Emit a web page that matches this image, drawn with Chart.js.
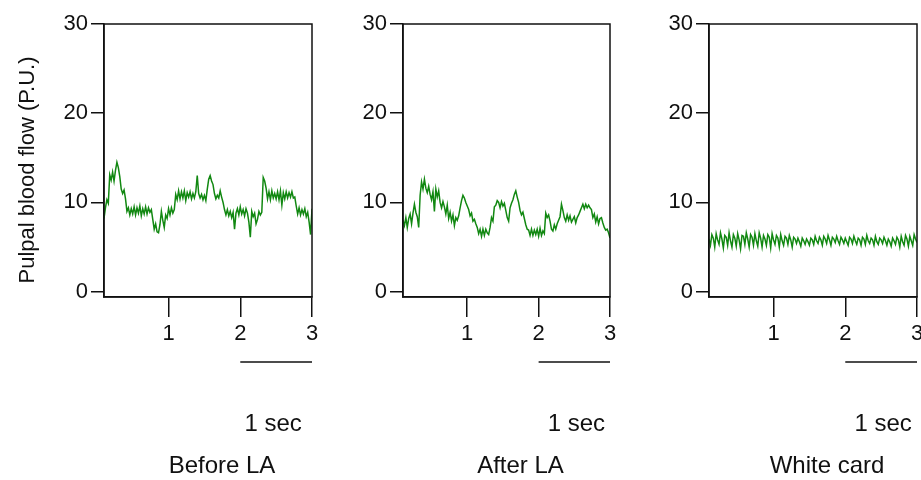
<!DOCTYPE html>
<html>
<head>
<meta charset="utf-8">
<script src="https://cdn.jsdelivr.net/npm/chart.js@4.4.1/dist/chart.umd.min.js"></script>
<style>
  body { margin: 0; background: #fff; }
  #wrap { position: relative; width: 921px; height: 480px; overflow: hidden; }
  #wrap canvas { position: absolute; top: 0; }
</style>
</head>
<body>
<div id="wrap">
  <canvas id="beforeChart"></canvas>
  <canvas id="afterChart"></canvas>
  <canvas id="cardChart"></canvas>
</div>
<script>
// Sampling of the traces (seconds)
var timeStart = 0.1;
var timeStep = 0.02;

var xTicks = [1, 2, 3];
var yTicks = [0, 10, 20, 30];
var panelNames = ['Before LA', 'After LA', 'White card'];
var scaleBarLabel = '1 sec';
var yTitle = 'Pulpal blood flow (P.U.)';

// Pulpal blood flow (P.U.)
var beforeLA = [
    8.2, 9.4, 10.3, 9.9, 13.1, 12.5, 13.4, 12.4, 13.6, 14.5,
    13.9, 12.9, 11.5, 11.0, 11.4, 10.4, 9.0, 9.4, 8.6, 9.3,
    8.7, 9.5, 8.6, 9.4, 8.8, 9.6, 8.5, 9.3, 8.7, 9.5,
    8.7, 9.4, 8.9, 9.2, 8.1, 7.0, 7.6, 6.7, 6.6, 7.5,
    9.0, 8.0, 7.2, 8.6, 8.2, 9.3, 8.6, 9.4, 8.8, 9.2,
    10.9, 10.3, 11.3, 10.4, 11.2, 10.5, 11.3, 10.2, 11.1, 10.6,
    11.2, 10.4, 11.0, 10.5, 11.2, 13.0, 11.0, 10.5, 10.9, 10.3,
    10.8, 10.2, 11.5, 12.6, 13.0, 12.4, 12.0, 11.0, 10.4, 10.8,
    10.5, 11.3, 10.6, 10.0, 9.2, 8.6, 9.2, 8.5, 9.0, 8.3,
    8.9, 7.0, 8.8, 9.3, 8.6, 9.5, 8.7, 9.2, 8.5, 9.3,
    8.8, 7.8, 6.1, 9.0, 8.4, 8.8, 7.6, 8.1, 9.0, 8.6,
    8.9, 12.8, 12.4, 11.6, 10.4, 11.2, 10.3, 11.3, 10.5, 11.0,
    10.4, 11.2, 10.3, 11.3, 9.7, 11.1, 10.4, 11.2, 10.5, 11.1,
    10.6, 11.2, 10.5, 10.6, 9.6, 8.7, 9.4, 8.6, 9.2, 8.7,
    9.3, 8.4, 8.9, 7.8, 6.4, 9.3
];

var afterLA = [
    8.0, 7.4, 8.3, 7.2, 8.2, 8.7, 7.6, 8.8, 9.8, 8.9,
    8.4, 7.2, 10.8, 12.3, 11.5, 12.6, 11.6, 11.1, 11.8, 10.9,
    10.3, 11.2, 9.0, 11.5, 10.6, 11.3, 10.0, 9.4, 10.1, 9.5,
    8.7, 9.7, 8.2, 8.9, 7.9, 8.6, 7.4, 8.3, 8.0, 8.5,
    9.4, 10.2, 10.8, 10.5, 10.0, 9.6, 9.2, 8.5, 8.8, 7.9,
    8.1, 7.6, 7.2, 6.5, 7.0, 6.2, 7.0, 6.3, 7.0, 6.6,
    6.4, 7.2, 8.3, 7.9, 9.5, 9.7, 10.2, 10.0, 9.4, 10.1,
    9.6, 9.9, 9.1, 8.3, 7.9, 9.4, 9.9, 10.3, 10.9, 11.3,
    10.6, 10.0, 9.1, 8.6, 8.9, 8.2, 7.5, 7.0, 6.9, 6.3,
    7.0, 6.3, 6.9, 6.4, 7.0, 6.2, 7.1, 6.3, 6.8, 6.5,
    8.8, 8.3, 8.6, 7.9, 7.0, 6.8, 7.5, 7.0, 7.6, 8.0,
    8.4, 9.8, 9.1, 8.3, 7.9, 8.6, 8.0, 8.5, 7.8, 8.1,
    8.4, 7.7, 8.3, 8.6, 9.0, 9.4, 9.8, 9.3, 9.8, 9.4,
    9.7, 9.4, 9.2, 8.3, 8.7, 7.8, 8.4, 7.6, 8.2, 8.3,
    7.7, 7.2, 6.9, 7.0, 6.6, 6.0
];

var whiteCard = [
    5.9, 5.2, 6.4, 6.0, 5.0, 6.5, 5.8, 5.3, 6.6, 5.9,
    4.9, 6.3, 6.1, 5.2, 6.6, 5.7, 5.0, 6.4, 6.0, 5.1,
    6.5, 5.8, 4.8, 6.3, 6.2, 5.3, 6.6, 5.9, 5.0, 6.4,
    6.1, 5.2, 6.5, 5.7, 5.1, 6.6, 6.0, 5.0, 6.3, 5.9,
    5.2, 6.4, 6.1, 4.9, 6.5, 5.8, 5.3, 6.3, 6.0, 5.0,
    6.4, 5.7, 5.2, 6.2, 6.0, 5.3, 6.3, 5.8, 5.0, 6.1,
    5.9, 5.4, 6.0, 5.6, 5.1, 6.0, 5.7, 5.3, 5.9, 5.6,
    5.2, 6.0, 5.8, 5.3, 6.2, 5.7, 5.4, 6.1, 5.8, 5.2,
    6.2, 5.9, 5.4, 6.3, 5.8, 5.2, 6.1, 5.9, 5.5, 6.2,
    5.7, 5.3, 6.1, 5.8, 5.4, 6.0, 5.6, 5.2, 6.1, 5.9,
    5.4, 6.2, 5.7, 5.3, 6.0, 5.8, 5.2, 6.1, 5.9, 5.3,
    6.3, 5.7, 5.4, 6.0, 5.8, 5.2, 6.2, 5.6, 5.3, 6.0,
    5.8, 5.4, 6.1, 5.7, 5.2, 5.9, 5.6, 5.1, 6.0, 5.7,
    5.3, 6.1, 5.8, 5.0, 6.2, 5.6, 5.2, 6.3, 5.9, 5.1,
    6.2, 5.7, 5.2, 6.4, 5.9, 5.5
];

var FONT = '"Liberation Sans", Arial, sans-serif';
var INK = '#111';
var TRACE = '#118811';

function toPoints(values) {
    return values.map(function (v, i) {
        return { x: +(timeStart + i * timeStep).toFixed(3), y: v };
    });
}

// Box around plot area, scale bar, panel names and the shared y title
var panelDecor = {
    id: 'panelDecor',
    afterDraw: function (chart) {
        var opts = chart.options.plugins.panelDecor;
        var ctx = chart.ctx;
        var a = chart.chartArea;
        var xs = chart.scales.x;
        ctx.save();
        ctx.strokeStyle = INK;
        ctx.lineWidth = 1.5;
        ctx.strokeRect(a.left, a.top, a.right - a.left, a.bottom - a.top);

        // 1 sec scale bar from t=2 to t=3
        var x0 = xs.getPixelForValue(2);
        var x1 = xs.getPixelForValue(3);
        ctx.beginPath();
        ctx.moveTo(x0, a.bottom + 65);
        ctx.lineTo(x1, a.bottom + 65);
        ctx.stroke();

        ctx.fillStyle = INK;
        ctx.font = '24px ' + FONT;
        ctx.textAlign = 'center';
        ctx.textBaseline = 'middle';
        ctx.fillText(scaleBarLabel, (x0 + x1) / 2 + opts.secShift, a.bottom + 127);
        ctx.fillText(opts.name, (a.left + a.right) / 2 + 14, a.bottom + 169);

        if (opts.showTitle) {
            ctx.font = '22px ' + FONT;
            ctx.translate(28, 170);
            ctx.rotate(-Math.PI / 2);
            ctx.fillText(yTitle, 0, 0);
        }
        ctx.restore();
    }
};

function makeChart(canvasId, left, width, axisWidth, rightPad, values, name, showTitle, secShift) {
    var el = document.getElementById(canvasId);
    el.style.left = left + 'px';
    el.style.width = width + 'px';
    el.style.height = '480px';
    el.width = width;
    el.height = 480;

    return new Chart(el, {
        type: 'line',
        data: {
            datasets: [{
                data: toPoints(values),
                borderColor: TRACE,
                borderWidth: 1.5,
                pointRadius: 0,
                tension: 0,
                fill: false
            }]
        },
        options: {
            responsive: false,
            animation: false,
            layout: { padding: { top: 24, right: rightPad, bottom: 0, left: 0 } },
            plugins: {
                legend: { display: false },
                tooltip: { enabled: false },
                panelDecor: { name: name, showTitle: showTitle, secShift: secShift }
            },
            scales: {
                x: {
                    type: 'linear',
                    min: 0.1,
                    max: 3,
                    afterBuildTicks: function (s) {
                        s.ticks = xTicks.map(function (v) { return { value: v }; });
                    },
                    afterFit: function (s) {
                        s.height = 183;
                        s.paddingLeft = 0;
                        s.paddingRight = 0;
                    },
                    grid: {
                        drawOnChartArea: false,
                        drawTicks: true,
                        tickLength: 20,
                        color: INK,
                        lineWidth: 1.5
                    },
                    border: { display: true, color: INK, width: 1.5 },
                    ticks: {
                        color: INK,
                        padding: 4,
                        maxRotation: 0,
                        font: { family: FONT, size: 22 }
                    }
                },
                y: {
                    type: 'linear',
                    min: -0.6,
                    max: 30,
                    afterBuildTicks: function (s) {
                        s.ticks = yTicks.map(function (v) { return { value: v }; });
                    },
                    afterFit: function (s) {
                        s.width = axisWidth;
                    },
                    grid: {
                        drawOnChartArea: false,
                        drawTicks: true,
                        tickLength: 13,
                        color: INK,
                        lineWidth: 1.5
                    },
                    border: { display: true, color: INK, width: 1.5 },
                    ticks: {
                        color: INK,
                        padding: 3,
                        font: { family: FONT, size: 22 }
                    }
                }
            }
        },
        plugins: [panelDecor]
    });
}

makeChart('beforeChart', 0, 320, 104, 8, beforeLA, panelNames[0], true, -3);
makeChart('afterChart', 330, 290, 73, 10, afterLA, panelNames[1], false, 2);
makeChart('cardChart', 636, 285, 73, 4, whiteCard, panelNames[2], false, 2);
</script>
</body>
</html>
